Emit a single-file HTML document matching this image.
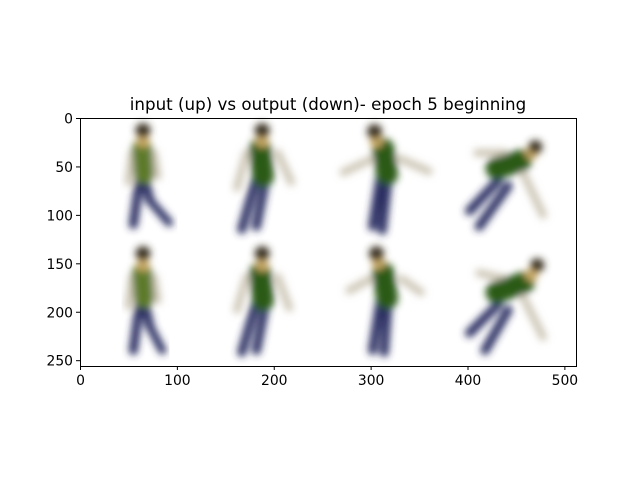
<!DOCTYPE html>
<html><head><meta charset="utf-8"><style>
html,body{margin:0;padding:0;background:#fff;}
#fig{position:relative;width:640px;height:480px;font-family:"DejaVu Sans","Liberation Sans",sans-serif;}
</style></head><body>
<div id="fig">
<svg id="chart" width="640" height="480" font-family="DejaVu Sans, Liberation Sans, sans-serif">
<text x="328" y="110" text-anchor="middle" font-size="16.7" fill="#000">input (up) vs output (down)- epoch 5 beginning</text>
<defs><filter id="blur" x="-20%" y="-20%" width="140%" height="140%"><feGaussianBlur stdDeviation="3.6"/></filter></defs>
<g id="img"></g>
<rect x="80.5" y="118.5" width="496" height="248" fill="none" stroke="#000" stroke-width="1"/>
<g id="ticks"></g>
</svg>
</div>
<script>
const xTicks=[0,100,200,300,400,500];
const yTicks=[0,50,100,150,200,250];
const xMax=512, yMax=256;
// figure segments: [x1,y1,x2,y2,colorKey,width]
const figures=[
 [[62,60,55,110,'L',9],[66,60,72,85,'L',9],[72,85,92,108,'L',8],[54,36,50,66,'A',8],[76,36,80,60,'A',8],[64,32,66,58,'T',20],[65,24,65,24,'S',13],[65,13,65,13,'H',15]],
 [[182,62,167,115,'L',9],[192,62,182,112,'L',9],[172,36,162,72,'A',8],[204,36,218,66,'A',8],[186,32,189,60,'G',22],[188,24,188,24,'S',13],[188,13,188,13,'H',15]],
 [[310,60,302,112,'L',9],[318,62,312,116,'L',9],[302,42,272,56,'A',8],[330,42,360,55,'A',8],[313,32,317,58,'G',22],[306,24,306,24,'S',13],[304,14,304,14,'H',15]],
 [[432,64,402,96,'L',9],[442,70,412,112,'L',9],[438,36,410,36,'A',8],[455,52,478,100,'A',8],[430,52,455,44,'G',22],[466,36,466,36,'S',13],[470,30,470,30,'H',14]],
 [[62,188,55,240,'L',9],[66,188,72,215,'L',9],[72,215,85,240,'L',8],[54,164,50,194,'A',8],[76,164,80,188,'A',8],[64,160,66,186,'T',20],[65,152,65,152,'S',13],[65,140,65,140,'H',15]],
 [[182,190,167,242,'L',9],[192,190,182,240,'L',9],[172,164,162,198,'A',8],[204,164,216,196,'A',8],[186,160,189,188,'G',22],[188,152,188,152,'S',13],[188,140,188,140,'H',15]],
 [[310,188,302,240,'L',9],[318,190,314,242,'L',9],[300,166,278,178,'A',8],[332,166,352,180,'A',8],[313,160,317,186,'G',22],[308,150,308,150,'S',13],[306,140,306,140,'H',15]],
 [[432,192,402,222,'L',9],[442,198,418,240,'L',9],[438,166,412,160,'A',8],[455,180,478,226,'A',8],[430,180,458,170,'G',22],[466,162,466,162,'S',13],[472,152,472,152,'H',14]]
];
const colors={L:'#2a2f62',A:'#cfc8b8',T:'#5d7a2a',G:'#2c5a16',S:'#c9a863',H:'#3a3020'};
const ax=80,ay=118,aw=496,ah=248;
const sx=v=>ax+v/xMax*aw, sy=v=>ay+v/yMax*ah;
const NS='http://www.w3.org/2000/svg';
const img=document.getElementById('img');
figures.forEach((f,i)=>{
 const g=document.createElementNS(NS,'g');
 
 
 g.setAttribute('filter','url(#blur)');
 f.forEach(s=>{
  const l=document.createElementNS(NS,'line');
  l.setAttribute('x1',sx(s[0]));l.setAttribute('y1',sy(s[1]));
  l.setAttribute('x2',sx(s[2])+(s[0]===s[2]&&s[1]===s[3]?0.1:0));l.setAttribute('y2',sy(s[3]));
  l.setAttribute('stroke',colors[s[4]]);l.setAttribute('stroke-width',s[5]);
  l.setAttribute('stroke-linecap','round');
  
  
  g.appendChild(l);
 });
 img.appendChild(g);
});
const tk=document.getElementById('ticks');
xTicks.forEach(v=>{
 const x=sx(v)+0.5;
 const l=document.createElementNS(NS,'line');
 l.setAttribute('x1',x);l.setAttribute('x2',x);l.setAttribute('y1',ay+ah);l.setAttribute('y2',ay+ah+4);l.setAttribute('stroke','#000');
 
 
 tk.appendChild(l);
 const t=document.createElementNS(NS,'text');
 t.setAttribute('x',x);t.setAttribute('y',ay+ah+19);t.setAttribute('text-anchor','middle');t.setAttribute('font-size','13.9');
 t.textContent=v;
 
 
 tk.appendChild(t);
});
yTicks.forEach(v=>{
 const y=sy(v)+0.5;
 const l=document.createElementNS(NS,'line');
 l.setAttribute('x1',ax-4);l.setAttribute('x2',ax);l.setAttribute('y1',y);l.setAttribute('y2',y);l.setAttribute('stroke','#000');
 
 
 tk.appendChild(l);
 const t=document.createElementNS(NS,'text');
 t.setAttribute('x',ax-7);t.setAttribute('y',y+5);t.setAttribute('text-anchor','end');t.setAttribute('font-size','13.9');
 t.textContent=v;
 
 
 tk.appendChild(t);
});
</script>
</body></html>
